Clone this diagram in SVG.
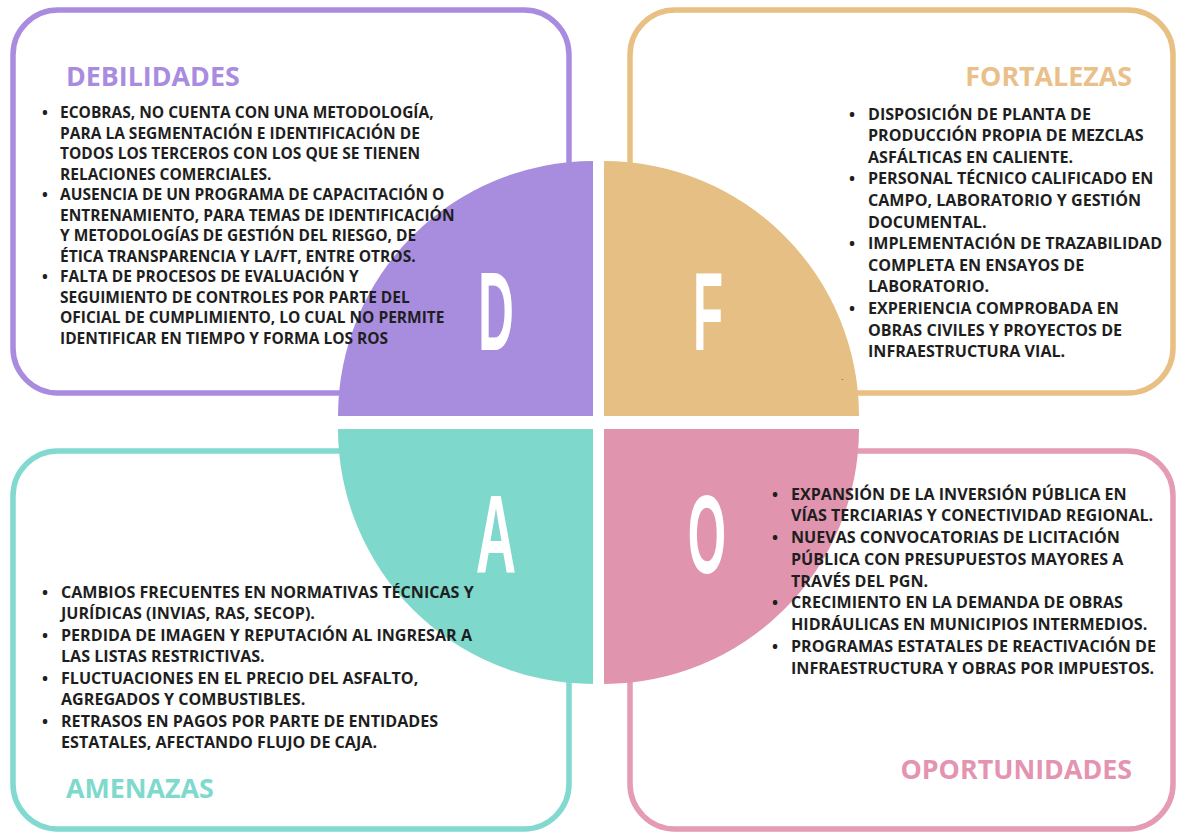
<svg xmlns="http://www.w3.org/2000/svg" width="1177" height="833" viewBox="0 0 1177 833">
<style>
.box{fill:#fff;stroke-width:5.5}
.body{font-family:"Open Sans","Liberation Sans",sans-serif;font-weight:700;font-size:16.1px;fill:#1e1e1e}
.bodyd{font-family:"Open Sans","Liberation Sans",sans-serif;font-weight:700;font-size:15.5px;fill:#1e1e1e}
.title{font-family:"Open Sans","Liberation Sans",sans-serif;font-weight:700;font-size:26.8px}
.big{font-family:"Liberation Sans","DejaVu Sans",sans-serif;font-weight:700;font-size:112px;fill:#fff;text-anchor:middle}
</style>
<rect width="1177" height="833" fill="#fff"/>
<g id="box-d"><rect class="box" x="13" y="10" width="556" height="383" rx="45" stroke="#a98ce0"/></g>
<g id="box-f"><rect class="box" x="630" y="10" width="543" height="383" rx="45" stroke="#e8c083"/></g>
<g id="box-a"><rect class="box" x="13" y="451" width="556" height="378" rx="45" stroke="#82d9cf"/></g>
<g id="box-o"><rect class="box" x="630" y="451" width="543" height="378" rx="45" stroke="#e59ab5"/></g>
<g id="sector-d"><path d="M593,416 L338,416 A255,255 0 0 1 593,161 Z" fill="#a88ddf"/><text class="big" transform="translate(496,350) scale(0.44,1)">D</text></g>
<g id="sector-f"><path d="M604,416 L604,161 A255,255 0 0 1 859,416 Z" fill="#e6bf84"/><text class="big" transform="translate(708,350) scale(0.44,1)">F</text><text x="841" y="380" style="font-family:'Liberation Sans',sans-serif;font-size:8px;fill:#222">.</text></g>
<g id="sector-a"><path d="M593,429 L338,429 A255,255 0 0 0 593,684 Z" fill="#7fd8cc"/><text class="big" transform="translate(496,573) scale(0.5,1)">A</text></g>
<g id="sector-o"><path d="M604,429 L859,429 A255,255 0 0 1 604,684 Z" fill="#e094ae"/><text class="big" transform="translate(707,573) scale(0.44,1)">O</text></g>
<g id="debilidades">
<text class="title" x="66" y="86" fill="#a98be0">DEBILIDADES</text>
<g class="bodyd">
<text x="42" y="118">•</text><text x="42" y="200">•</text><text x="42" y="282">•</text>
<text x="60" y="118">ECOBRAS, NO CUENTA CON UNA METODOLOGÍA,</text>
<text x="60" y="138.5">PARA LA SEGMENTACIÓN E IDENTIFICACIÓN DE</text>
<text x="60" y="159">TODOS LOS TERCEROS CON LOS QUE SE TIENEN</text>
<text x="60" y="179.5">RELACIONES COMERCIALES.</text>
<text x="60" y="200">AUSENCIA DE UN PROGRAMA DE CAPACITACIÓN O</text>
<text x="60" y="220.5">ENTRENAMIENTO, PARA TEMAS DE IDENTIFICACIÓN</text>
<text x="60" y="241">Y METODOLOGÍAS DE GESTIÓN DEL RIESGO, DE</text>
<text x="60" y="261.5">ÉTICA TRANSPARENCIA Y LA/FT, ENTRE OTROS.</text>
<text x="60" y="282">FALTA DE PROCESOS DE EVALUACIÓN Y</text>
<text x="60" y="302.5">SEGUIMIENTO DE CONTROLES POR PARTE DEL</text>
<text x="60" y="323">OFICIAL DE CUMPLIMIENTO, LO CUAL NO PERMITE</text>
<text x="60" y="343.5">IDENTIFICAR EN TIEMPO Y FORMA LOS ROS</text>
</g>
</g>
<g id="fortalezas">
<text class="title" x="1132" y="86" fill="#e9c08a" text-anchor="end">FORTALEZAS</text>
<g class="body">
<text x="849" y="119.5">•</text><text x="849" y="184.3">•</text><text x="849" y="249.1">•</text><text x="849" y="313.9">•</text>
<text x="868" y="119.5">DISPOSICIÓN DE PLANTA DE</text>
<text x="868" y="141.1">PRODUCCIÓN PROPIA DE MEZCLAS</text>
<text x="868" y="162.7">ASFÁLTICAS EN CALIENTE.</text>
<text x="868" y="184.3">PERSONAL TÉCNICO CALIFICADO EN</text>
<text x="868" y="205.9">CAMPO, LABORATORIO Y GESTIÓN</text>
<text x="868" y="227.5">DOCUMENTAL.</text>
<text x="868" y="249.1">IMPLEMENTACIÓN DE TRAZABILIDAD</text>
<text x="868" y="270.7">COMPLETA EN ENSAYOS DE</text>
<text x="868" y="292.3">LABORATORIO.</text>
<text x="868" y="313.9">EXPERIENCIA COMPROBADA EN</text>
<text x="868" y="335.5">OBRAS CIVILES Y PROYECTOS DE</text>
<text x="868" y="357.1">INFRAESTRUCTURA VIAL.</text>
</g>
</g>
<g id="amenazas">
<text class="title" x="66" y="798" fill="#80d9cd">AMENAZAS</text>
<g class="body">
<text x="42" y="597.5">•</text><text x="42" y="640.5">•</text><text x="42" y="683.5">•</text><text x="42" y="726.5">•</text>
<text x="61" y="597.5">CAMBIOS FRECUENTES EN NORMATIVAS TÉCNICAS Y</text>
<text x="61" y="619">JURÍDICAS (INVIAS, RAS, SECOP).</text>
<text x="61" y="640.5">PERDIDA DE IMAGEN Y REPUTACIÓN AL INGRESAR A</text>
<text x="61" y="662">LAS LISTAS RESTRICTIVAS.</text>
<text x="61" y="683.5">FLUCTUACIONES EN EL PRECIO DEL ASFALTO,</text>
<text x="61" y="705">AGREGADOS Y COMBUSTIBLES.</text>
<text x="61" y="726.5">RETRASOS EN PAGOS POR PARTE DE ENTIDADES</text>
<text x="61" y="748">ESTATALES, AFECTANDO FLUJO DE CAJA.</text>
</g>
</g>
<g id="oportunidades">
<text class="title" x="1132" y="779" fill="#e493b0" text-anchor="end">OPORTUNIDADES</text>
<g class="body">
<text x="772" y="499.5">•</text><text x="772" y="543">•</text><text x="772" y="608.25">•</text><text x="772" y="651.75">•</text>
<text x="791" y="499.5">EXPANSIÓN DE LA INVERSIÓN PÚBLICA EN</text>
<text x="791" y="521.25">VÍAS TERCIARIAS Y CONECTIVIDAD REGIONAL.</text>
<text x="791" y="543">NUEVAS CONVOCATORIAS DE LICITACIÓN</text>
<text x="791" y="564.75">PÚBLICA CON PRESUPUESTOS MAYORES A</text>
<text x="791" y="586.5">TRAVÉS DEL PGN.</text>
<text x="791" y="608.25">CRECIMIENTO EN LA DEMANDA DE OBRAS</text>
<text x="791" y="630">HIDRÁULICAS EN MUNICIPIOS INTERMEDIOS.</text>
<text x="791" y="651.75">PROGRAMAS ESTATALES DE REACTIVACIÓN DE</text>
<text x="791" y="673.5">INFRAESTRUCTURA Y OBRAS POR IMPUESTOS.</text>
</g>
</g>
</svg>
